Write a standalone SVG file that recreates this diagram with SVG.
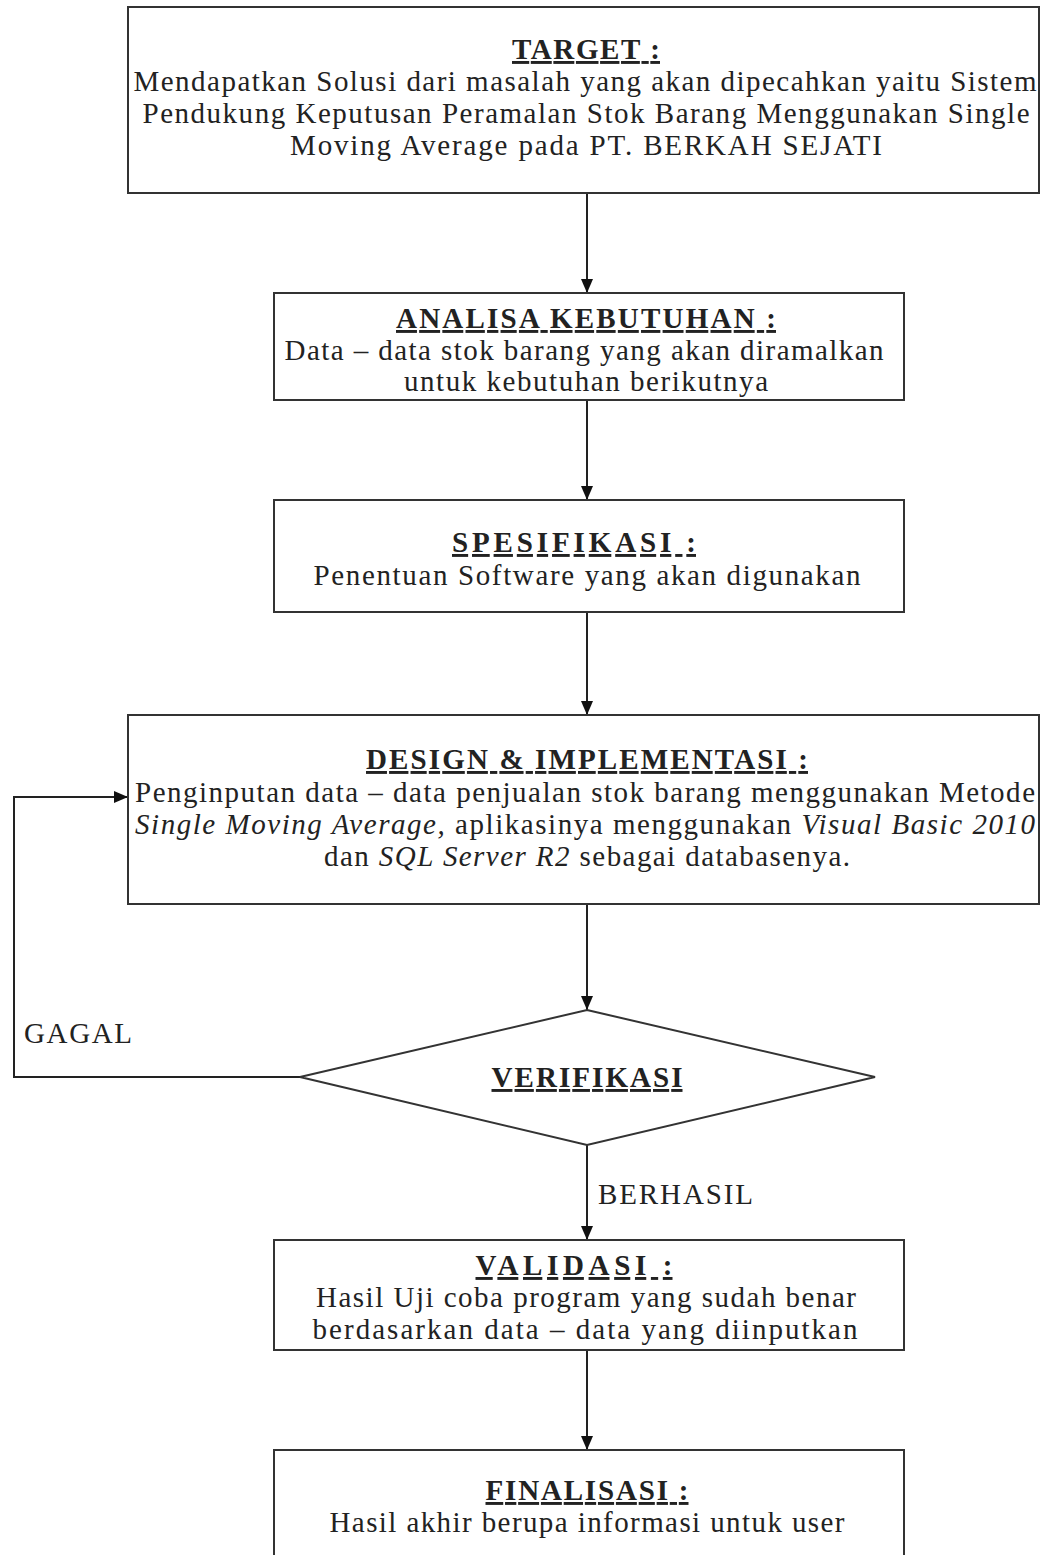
<svg xmlns="http://www.w3.org/2000/svg" width="1041" height="1555" viewBox="0 0 1041 1555">
<style>
.box{fill:#fff;stroke:#333;stroke-width:2}
.t{font-family:"Liberation Serif","Times New Roman",serif;font-size:29px;fill:#222;text-anchor:middle}
.h{font-weight:bold;text-decoration:underline}
.i{font-style:italic}
.c{fill:none;stroke:#222;stroke-width:2}
</style>
<defs>
<marker id="ah" viewBox="0 0 14 12" refX="14" refY="6" markerWidth="15" markerHeight="12" markerUnits="userSpaceOnUse" orient="auto">
<path d="M0,0 L14,6 L0,12 z" fill="#111"/>
</marker>
</defs>
<rect width="1041" height="1555" fill="#fff"/>
<g id="connectors">
<line class="c" x1="587" y1="193" x2="587" y2="293" marker-end="url(#ah)"/>
<line class="c" x1="587" y1="400" x2="587" y2="500" marker-end="url(#ah)"/>
<line class="c" x1="587" y1="612" x2="587" y2="715" marker-end="url(#ah)"/>
<line class="c" x1="587" y1="904" x2="587" y2="1010" marker-end="url(#ah)"/>
<polyline class="c" points="300,1077 14,1077 14,797 128,797" marker-end="url(#ah)"/>
<line class="c" x1="587" y1="1145" x2="587" y2="1240" marker-end="url(#ah)"/>
<line class="c" x1="587" y1="1350" x2="587" y2="1450" marker-end="url(#ah)"/>
<text class="t" x="24" y="1043" style="text-anchor:start" textLength="108" lengthAdjust="spacing">GAGAL</text>
<text class="t" x="598" y="1204" style="text-anchor:start" textLength="155" lengthAdjust="spacing">BERHASIL</text>
</g>
<g id="target">
<rect class="box" x="128" y="7" width="911" height="186"/>
<text class="t h" x="586" y="59" textLength="148" lengthAdjust="spacing">TARGET :</text>
<text class="t" x="585" y="91" textLength="903" lengthAdjust="spacing">Mendapatkan Solusi dari masalah yang akan dipecahkan yaitu Sistem</text>
<text class="t" x="586" y="123" textLength="887" lengthAdjust="spacing">Pendukung Keputusan Peramalan Stok Barang Menggunakan Single</text>
<text class="t" x="586" y="155" textLength="592" lengthAdjust="spacing">Moving Average pada PT. BERKAH SEJATI</text>
</g>
<g id="analisa">
<rect class="box" x="274" y="293" width="630" height="107"/>
<text class="t h" x="586" y="328" textLength="380" lengthAdjust="spacing">ANALISA KEBUTUHAN :</text>
<text class="t" x="584" y="360" textLength="599" lengthAdjust="spacing">Data – data stok barang yang akan diramalkan</text>
<text class="t" x="586" y="391" textLength="364" lengthAdjust="spacing">untuk kebutuhan berikutnya</text>
</g>
<g id="spesifikasi">
<rect class="box" x="274" y="500" width="630" height="112"/>
<text class="t h" x="574" y="552" textLength="244" lengthAdjust="spacing">SPESIFIKASI :</text>
<text class="t" x="587" y="585" textLength="547" lengthAdjust="spacing">Penentuan Software yang akan digunakan</text>
</g>
<g id="design">
<rect class="box" x="128" y="715" width="911" height="189"/>
<text class="t h" x="587" y="769" textLength="442" lengthAdjust="spacing">DESIGN &amp; IMPLEMENTASI :</text>
<text class="t" x="585" y="802" textLength="900" lengthAdjust="spacing">Penginputan data – data penjualan stok barang menggunakan Metode</text>
<text class="t" x="585" y="834" textLength="900" lengthAdjust="spacing"><tspan class="i">Single Moving Average,</tspan> aplikasinya menggunakan <tspan class="i">Visual Basic 2010</tspan></text>
<text class="t" x="587" y="866" textLength="526" lengthAdjust="spacing">dan <tspan class="i">SQL Server R2</tspan> sebagai databasenya.</text>
</g>
<g id="verifikasi">
<polygon class="box" points="587,1010 875,1077 587,1145 300,1077"/>
<text class="t h" x="587" y="1087" textLength="191" lengthAdjust="spacing">VERIFIKASI</text>
</g>
<g id="validasi">
<rect class="box" x="274" y="1240" width="630" height="110"/>
<text class="t h" x="574" y="1275" textLength="197" lengthAdjust="spacing">VALIDASI :</text>
<text class="t" x="586" y="1307" textLength="540" lengthAdjust="spacing">Hasil Uji coba program yang sudah benar</text>
<text class="t" x="585" y="1339" textLength="545" lengthAdjust="spacing">berdasarkan data – data yang diinputkan</text>
</g>
<g id="finalisasi">
<rect class="box" x="274" y="1450" width="630" height="120"/>
<text class="t h" x="587" y="1500" textLength="203" lengthAdjust="spacing">FINALISASI :</text>
<text class="t" x="587" y="1532" textLength="515" lengthAdjust="spacing">Hasil akhir berupa informasi untuk user</text>
</g>
</svg>
